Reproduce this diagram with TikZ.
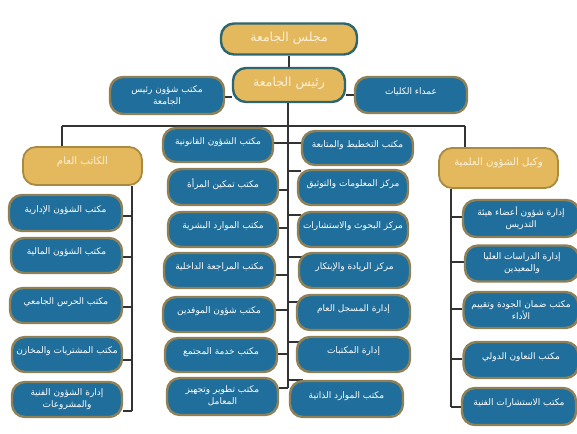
\documentclass[tikz,border=0pt]{standalone}
\usepackage{fontspec}
\newfontfamily\arabicfont[Script=Arabic]{DejaVu Sans}
\TeXXeTstate=1
\usetikzlibrary{backgrounds}
\definecolor{goldf}{HTML}{E4B85C}
\definecolor{tealb}{HTML}{2E6670}
\definecolor{bluf}{HTML}{1F6E9B}
\definecolor{khakib}{HTML}{8E8158}
\definecolor{goldb}{HTML}{A98A40}
\definecolor{creamt}{HTML}{FBF1DA}
\tikzset{
  basebox/.style={rectangle, rounded corners=13pt, inner sep=0pt},
  bluebox/.style={basebox, fill=bluf, draw=khakib, line width=2.4pt},
  bluebox text/.style={inner sep=0pt, align=center, text=white, font=\arabicfont\fontsize{9}{12}\selectfont},
  topbox/.style={basebox, fill=goldf, draw=tealb, line width=2.4pt},
  topbox text/.style={inner sep=0pt, align=center, text=creamt, font=\arabicfont\fontsize{12.5}{14}\selectfont},
  vicebox/.style={basebox, fill=goldf, draw=goldb, line width=1.8pt},
  vicebox text/.style={inner sep=0pt, align=center, text=creamt, font=\arabicfont\fontsize{10.2}{12}\selectfont},
  conn/.style={draw=black!80, line width=1.1pt},
}
\newcommand\OBox[8]{%
  \node[#1, minimum width=#5pt, minimum height=#6pt] (#2) at (#3,#4) {};
  \node[#1 text] (#2-t) at ([yshift=#8pt]#2.center) {#7};}
\begin{document}
\begin{tikzpicture}[x=1pt,y=-1pt]
\useasboundingbox (0,0) rectangle (577,433);
% top
\OBox{topbox}{council}{289}{39}{136}{31}{\beginR مجلس الجامعة\endR}{1}
\OBox{topbox}{pres}{289}{85}{112}{34}{\beginR رئيس الجامعة\endR}{2}
\OBox{bluebox}{office}{167}{95.5}{114}{37}{\beginR مكتب شؤون رئيس\endR\\\beginR الجامعة\endR}{0}
\OBox{bluebox}{deans}{411}{95}{112}{36}{\beginR عمداء الكليات\endR}{3}
% left column
\OBox{vicebox}{gs}{82.5}{166}{119}{38}{\beginR الكاتب العام\endR}{4}
\OBox{bluebox}{L1}{65.5}{213}{113}{36}{\beginR مكتب الشؤون الإدارية\endR}{3}
\OBox{bluebox}{L2}{66.5}{255.5}{111}{35}{\beginR مكتب الشؤون المالية\endR}{3}
\OBox{bluebox}{L3}{66}{305.5}{112}{35}{\beginR مكتب الحرس الجامعي\endR}{3}
\OBox{bluebox}{L4}{67}{354.5}{110}{35}{\beginR مكتب المشتريات والمخازن\endR}{3}
\OBox{bluebox}{L5}{67}{399.5}{110}{35}{\beginR إدارة  الشؤون الفنية\endR\\\beginR والمشروعات\endR}{0}
% middle left
\OBox{bluebox}{M1}{218}{145}{110}{34}{\beginR مكتب الشؤون القانونية\endR}{3}
\OBox{bluebox}{M2}{223}{187}{110}{36}{\beginR مكتب تمكين المرأة\endR}{3}
\OBox{bluebox}{M3}{223}{229.5}{110}{35}{\beginR مكتب الموارد البشرية\endR}{3}
\OBox{bluebox}{M4}{219.5}{270.5}{111}{35}{\beginR مكتب المراجعة الداخلية\endR}{3}
\OBox{bluebox}{M5}{219}{314.5}{112}{35}{\beginR مكتب شؤون الموفدين\endR}{3}
\OBox{bluebox}{M6}{221}{355}{112}{34}{\beginR مكتب خدمة المجتمع\endR}{3}
\OBox{bluebox}{M7}{222.5}{396.5}{111}{37}{\beginR مكتب تطوير وتجهيز\endR\\\beginR المعامل\endR}{1}
% middle right
\OBox{bluebox}{R1}{357.5}{148}{111}{34}{\beginR مكتب التخطيط والمتابعة\endR}{3}
\OBox{bluebox}{R2}{353}{187.5}{110}{35}{\beginR مركز المعلومات والتوثيق\endR}{3}
\OBox{bluebox}{R3}{353}{229.5}{110}{35}{\beginR مركز البحوث والاستشارات\endR}{3}
\OBox{bluebox}{R4}{354.5}{270.5}{111}{35}{\beginR مركز الريادة والإبتكار\endR}{3}
\OBox{bluebox}{R5}{353.5}{312.5}{113}{35}{\beginR إدارة المسجل العام\endR}{3}
\OBox{bluebox}{R6}{353.5}{354.5}{113}{35}{\beginR إدارة  المكتبات\endR}{3}
\OBox{bluebox}{R7}{346.5}{399}{113}{36}{\beginR مكتب الموارد الذاتية\endR}{3}
% right column
\OBox{vicebox}{vp}{498.5}{168}{119}{40}{\beginR وكيل  الشؤون العلمية\endR}{5}
\OBox{bluebox}{S1}{521}{218.5}{116}{37}{\beginR إدارة شؤون أعضاء هيئة\endR\\\beginR التدريس\endR}{0}
\OBox{bluebox}{S2}{522}{263.5}{114}{36}{\beginR إدارة الدراسات العليا\endR\\\beginR والمعيدين\endR}{0}
\OBox{bluebox}{S3}{521}{310}{115}{36}{\beginR مكتب ضمان الجودة وتقييم\endR\\\beginR الأداء\endR}{0}
\OBox{bluebox}{S4}{521}{360}{115}{36}{\beginR مكتب  التعاون  الدولي\endR}{3}
\OBox{bluebox}{S5}{519}{406.5}{114}{37}{\beginR مكتب الاستشارات الفنية\endR}{3}
% connectors
\coordinate (busL) at (62,126);
\coordinate (busR) at (465,126);
\coordinate (MT) at (288,0);
\coordinate (LT) at (132,0);
\coordinate (RT) at (451,0);
\begin{scope}[on background layer]
\fill[white] (0,0) rectangle (577,433);
\draw[conn] (council) -- (pres);
\draw[conn] (office.east |- 0,97) -- (pres.west |- 0,97);
\draw[conn] (pres.east |- 0,95) -- (deans.west |- 0,95);
\draw[conn] (MT |- pres.south) -- (MT |- 0,388);
\draw[conn] (busL) -- (busR);
\draw[conn] (busL) -- (busL |- gs.north);
\draw[conn] (busR) -- (busR |- vp.north);
% left trunk
\draw[conn] (LT |- gs.south) -- (LT |- 0,411);
\draw[conn] (L1.east |- 0,216) -- (LT |- 0,216);
\draw[conn] (L2.east |- 0,257) -- (LT |- 0,257);
\draw[conn] (L3.east |- 0,307) -- (LT |- 0,307);
\draw[conn] (L4.east |- 0,360) -- (LT |- 0,360);
\draw[conn] (L5.east |- 0,411) -- (LT |- 0,411);
% middle
\draw[conn] (M1.east |- 0,143) -- (MT |- 0,143);
\draw[conn] (M2.east |- 0,190) -- (MT |- 0,190);
\draw[conn] (M3.east |- 0,228) -- (MT |- 0,228);
\draw[conn] (M4.east |- 0,275) -- (MT |- 0,275);
\draw[conn] (M5.east |- 0,310) -- (MT |- 0,310);
\draw[conn] (M6.east |- 0,354) -- (MT |- 0,354);
\draw[conn] (M7.east |- 0,388) -- (MT |- 0,388);
\draw[conn] (MT |- 0,143) -- (R1.west |- 0,143);
\draw[conn] (MT |- 0,171) -- ([xshift=4pt]R2.west |- 0,171);
\draw[conn] (MT |- 0,215) -- ([xshift=4pt]R3.west |- 0,215);
\draw[conn] (MT |- 0,257) -- ([xshift=4pt]R4.west |- 0,257);
\draw[conn] (MT |- 0,302) -- ([xshift=4pt]R5.west |- 0,302);
\draw[conn] (MT |- 0,342) -- ([xshift=4pt]R6.west |- 0,342);
\draw[conn] (MT |- 0,380) -- ([xshift=14pt]R7.west |- 0,380);
% right trunk
\draw[conn] (RT |- vp.south) -- (RT |- 0,407);
\draw[conn] (RT |- 0,217) -- (S1.west |- 0,217);
\draw[conn] (RT |- 0,262) -- (S2.west |- 0,262);
\draw[conn] (RT |- 0,309) -- (S3.west |- 0,309);
\draw[conn] (RT |- 0,359) -- (S4.west |- 0,359);
\draw[conn] (RT |- 0,407) -- (S5.west |- 0,407);
\end{scope}
\end{tikzpicture}
\end{document}
